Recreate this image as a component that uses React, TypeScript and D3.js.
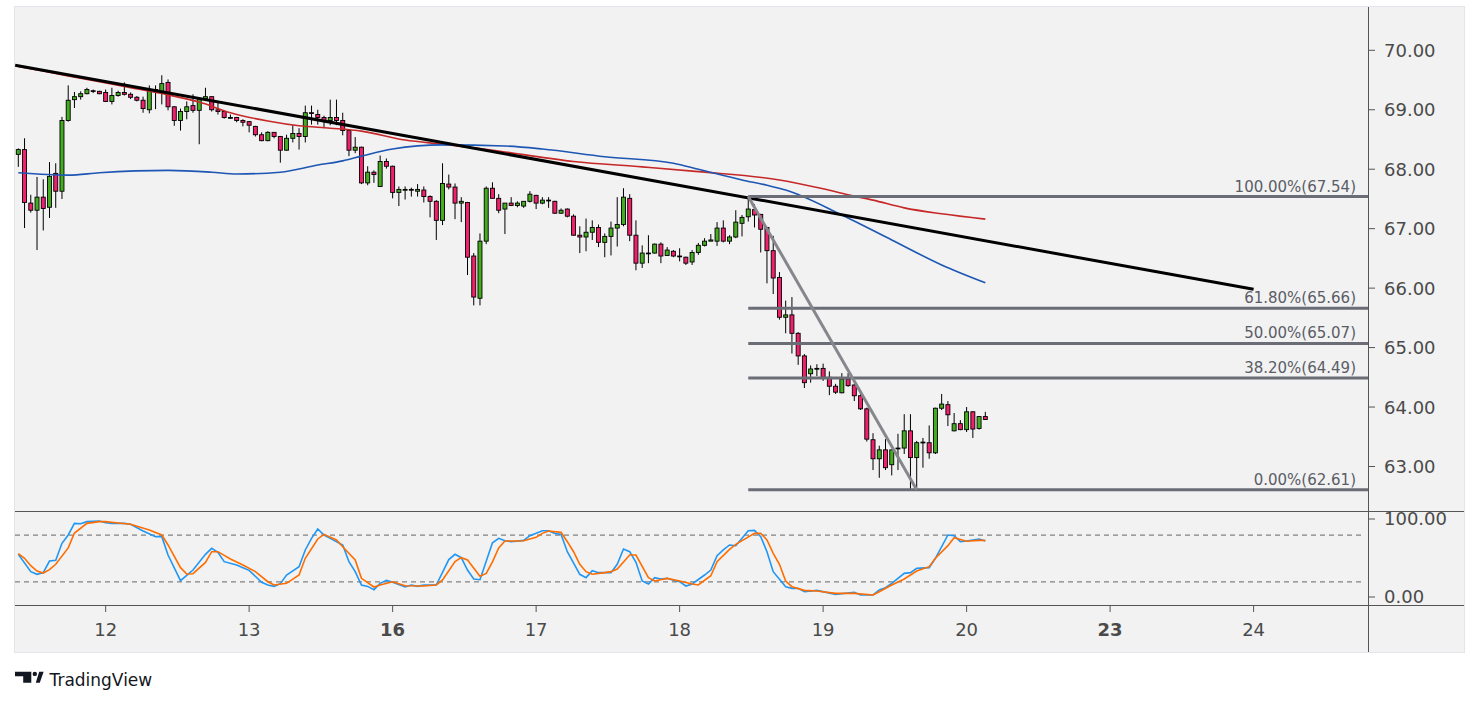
import React, { useEffect, useRef } from 'react';
import * as d3 from 'd3';

// hourly candles, [open, high, low, close]
const candles: [number, number, number, number][] = [
  [68.25, 68.35, 68.04, 68.33], [68.33, 68.52, 67.01, 67.44], [67.43, 67.57, 67.27, 67.31], [67.31, 67.87, 66.64, 67.53],
  [67.53, 67.83, 66.97, 67.34], [67.36, 68.12, 67.18, 67.88], [67.93, 68.10, 67.35, 67.63], [67.63, 68.88, 67.50, 68.82],
  [68.82, 69.41, 68.80, 69.16], [69.17, 69.30, 69.03, 69.22], [69.22, 69.31, 69.17, 69.27], [69.27, 69.37, 69.26, 69.34],
  [69.32, 69.34, 69.28, 69.31], [69.31, 69.32, 69.26, 69.27], [69.29, 69.34, 69.13, 69.14], [69.14, 69.37, 69.09, 69.24],
  [69.24, 69.32, 69.22, 69.29], [69.29, 69.46, 69.24, 69.26], [69.26, 69.29, 69.18, 69.21], [69.21, 69.23, 69.14, 69.16],
  [69.16, 69.22, 68.95, 69.02], [69.00, 69.41, 68.94, 69.34], [69.34, 69.41, 69.01, 69.31], [69.29, 69.58, 69.09, 69.44],
  [69.46, 69.51, 68.99, 69.05], [69.05, 69.06, 68.73, 68.82], [68.82, 69.02, 68.65, 68.97], [68.97, 69.14, 68.84, 69.05],
  [69.07, 69.26, 68.95, 68.99], [68.99, 69.21, 68.42, 69.19], [69.19, 69.37, 69.16, 69.22], [69.22, 69.23, 68.97, 69.00],
  [69.00, 69.14, 68.92, 68.97], [68.97, 68.98, 68.85, 68.87], [68.87, 68.92, 68.85, 68.87], [68.87, 68.88, 68.79, 68.82],
  [68.82, 68.84, 68.72, 68.79], [68.80, 68.81, 68.62, 68.74], [68.72, 68.73, 68.55, 68.58], [68.58, 68.62, 68.47, 68.48],
  [68.48, 68.64, 68.47, 68.62], [68.62, 68.62, 68.52, 68.55], [68.55, 68.56, 68.11, 68.32], [68.32, 68.58, 68.31, 68.52],
  [68.52, 68.74, 68.45, 68.60], [68.60, 68.69, 68.33, 68.55], [68.55, 69.07, 68.45, 68.95], [68.95, 69.07, 68.75, 68.94],
  [68.92, 69.00, 68.75, 68.87], [68.87, 68.90, 68.69, 68.82], [68.82, 69.17, 68.74, 68.87], [68.87, 69.17, 68.74, 68.82],
  [68.82, 68.95, 68.57, 68.65], [68.65, 68.66, 68.22, 68.32], [68.32, 68.54, 68.27, 68.37], [68.37, 68.38, 67.75, 67.77],
  [67.77, 68.05, 67.73, 67.95], [67.95, 67.98, 67.77, 67.91], [67.71, 68.23, 67.70, 68.13], [68.13, 68.18, 68.01, 68.05],
  [68.05, 68.06, 67.51, 67.61], [67.61, 67.71, 67.38, 67.66], [67.66, 67.71, 67.49, 67.66], [67.66, 67.69, 67.54, 67.65],
  [67.63, 67.75, 67.54, 67.66], [67.65, 67.71, 67.44, 67.54], [67.54, 67.56, 67.19, 67.46], [67.46, 67.48, 66.81, 67.14],
  [67.14, 68.10, 67.06, 67.76], [67.75, 67.91, 67.66, 67.70], [67.70, 67.76, 67.16, 67.43], [67.43, 67.53, 67.11, 67.46],
  [67.44, 67.45, 66.22, 66.52], [66.54, 66.59, 65.71, 65.85], [65.83, 66.92, 65.71, 66.79], [66.79, 67.71, 66.74, 67.68],
  [67.68, 67.78, 67.51, 67.51], [67.51, 67.58, 67.26, 67.31], [67.33, 67.43, 66.91, 67.43], [67.43, 67.53, 67.38, 67.39],
  [67.39, 67.46, 67.36, 67.43], [67.38, 67.46, 67.35, 67.46], [67.46, 67.63, 67.44, 67.58], [67.56, 67.57, 67.33, 67.43],
  [67.43, 67.53, 67.41, 67.48], [67.48, 67.53, 67.35, 67.48], [67.46, 67.47, 67.25, 67.26], [67.26, 67.34, 67.25, 67.31],
  [67.33, 67.34, 67.19, 67.21], [67.21, 67.24, 66.88, 66.89], [66.89, 67.04, 66.59, 66.86], [66.86, 67.17, 66.62, 66.94],
  [66.94, 67.14, 66.81, 67.02], [67.02, 67.07, 66.69, 66.77], [66.77, 66.92, 66.52, 66.87], [66.87, 67.12, 66.55, 67.01],
  [67.01, 67.53, 66.70, 67.07], [67.07, 67.68, 67.04, 67.53], [67.51, 67.58, 66.79, 66.89], [66.89, 67.14, 66.30, 66.42],
  [66.42, 66.72, 66.34, 66.59], [66.59, 66.89, 66.42, 66.59], [66.59, 66.75, 66.58, 66.74], [66.74, 66.77, 66.42, 66.54],
  [66.55, 66.69, 66.54, 66.64], [66.62, 66.64, 66.52, 66.54], [66.54, 66.67, 66.45, 66.53], [66.52, 66.53, 66.39, 66.42],
  [66.44, 66.64, 66.39, 66.60], [66.60, 66.76, 66.56, 66.72], [66.72, 66.84, 66.70, 66.79], [66.79, 66.91, 66.79, 66.81],
  [66.79, 67.11, 66.71, 67.01], [67.01, 67.14, 66.77, 66.79], [66.79, 66.89, 66.74, 66.86], [66.86, 67.31, 66.84, 67.11],
  [67.09, 67.23, 66.87, 67.19], [67.20, 67.54, 67.12, 67.33], [67.32, 67.41, 67.02, 67.23], [67.24, 67.25, 66.60, 66.99],
  [67.02, 67.03, 66.08, 66.63], [66.63, 66.88, 65.90, 66.17], [66.18, 66.27, 65.47, 65.51], [65.51, 65.79, 65.24, 65.55],
  [65.55, 65.85, 64.90, 65.24], [65.24, 65.26, 64.71, 64.86], [64.86, 64.89, 64.32, 64.41], [64.56, 64.70, 64.41, 64.64],
  [64.65, 64.72, 64.52, 64.65], [64.65, 64.73, 64.44, 64.50], [64.50, 64.60, 64.20, 64.35], [64.35, 64.39, 64.22, 64.25],
  [64.24, 64.57, 64.23, 64.47], [64.47, 64.57, 64.34, 64.36], [64.37, 64.39, 64.10, 64.19], [64.19, 64.24, 63.95, 63.97],
  [63.97, 63.99, 63.42, 63.46], [63.45, 63.56, 62.94, 63.13], [63.13, 63.35, 62.81, 63.28], [63.28, 63.46, 62.94, 62.98],
  [63.03, 63.28, 62.85, 63.28], [63.30, 63.55, 62.94, 63.31], [63.31, 63.88, 63.21, 63.60], [63.60, 63.88, 62.62, 63.15],
  [63.15, 63.43, 62.61, 63.40], [63.40, 63.48, 62.98, 63.41], [63.40, 63.69, 63.13, 63.23], [63.23, 63.99, 63.21, 63.98],
  [63.98, 64.22, 63.95, 64.05], [64.04, 64.10, 63.68, 63.87], [63.60, 63.90, 63.59, 63.72], [63.72, 63.78, 63.61, 63.62],
  [63.62, 64.00, 63.58, 63.92], [63.92, 63.93, 63.48, 63.63], [63.64, 63.85, 63.62, 63.84], [63.84, 63.92, 63.79, 63.79],
];

// time axis: day labels and the candle index they sit on
const dayLabels = ['12', '13', '16', '17', '18', '19', '20', '23', '24'];
const dayTickIdx = [14, 37, 60, 83, 106, 129, 152, 175, 198];
const weekStarts = ['16', '23'];

const priceTicks = [63, 64, 65, 66, 67, 68, 69, 70];
const stochTicks = [0, 100];
const stochBands = [20, 80];

// moving averages, [candle index, price]
const maBlue: [number, number][] = [
  [0, 67.94], [8, 67.90], [13, 67.94], [24, 67.98], [31, 67.95], [35, 67.92], [42, 67.95], [48, 68.07],
  [52, 68.14], [55, 68.22], [60, 68.34], [68, 68.41], [78, 68.39], [84, 68.34], [94, 68.21], [105, 68.10],
  [109, 68.00], [116, 67.82], [120, 67.73], [123, 67.65], [132, 67.23], [140, 66.81], [148, 66.39], [155, 66.09],
];
const maRed: [number, number][] = [
  [0, 69.73], [8, 69.57], [18, 69.37], [24, 69.25], [29, 69.13], [34, 68.95], [40, 68.81], [45, 68.73],
  [50, 68.69], [55, 68.64], [62, 68.49], [68, 68.42], [73, 68.36], [78, 68.29], [89, 68.13], [100, 68.04],
  [109, 67.96], [122, 67.82], [129, 67.67], [133, 67.57], [137, 67.48], [142, 67.35], [148, 67.25], [155, 67.16],
];

// stochastic %K and %D, [candle index, value]
const stochK: [number, number][] = [
  [0, 54.7], [2, 32.5], [3, 29.1], [4, 31.2], [5, 46.1], [6, 47.0], [7, 68.8], [8, 79.5], [9, 94.4], [10, 94.0],
  [11, 96.6], [13, 97.5], [14, 95.3], [15, 94.4], [17, 94.4], [18, 93.2], [20, 84.6], [22, 77.4], [23, 77.4],
  [24, 53.8], [26, 20.9], [28, 34.6], [30, 54.7], [31, 62.4], [32, 57.3], [33, 45.3], [35, 41.0], [36, 37.6],
  [37, 34.2], [39, 18.8], [40, 15.4], [41, 13.6], [42, 17.1], [43, 28.2], [45, 38.9], [46, 60.3], [47, 75.2],
  [48, 87.2], [49, 79.5], [50, 75.2], [52, 66.7], [53, 45.3], [54, 32.5], [55, 15.4], [56, 13.6], [57, 9.4],
  [58, 17.5], [59, 21.4], [60, 18.8], [62, 12.8], [63, 15.4], [64, 13.6], [65, 15.4], [67, 15.4], [69, 48.0],
  [70, 54.7], [71, 50.4], [72, 34.6], [73, 23.1], [74, 22.2], [76, 69.5], [77, 75.2], [78, 72.2], [79, 70.9],
  [81, 72.6], [82, 78.6], [84, 85.0], [85, 85.0], [86, 81.6], [87, 80.3], [88, 58.1], [90, 29.1], [91, 24.8],
  [92, 33.7], [93, 31.2], [95, 31.2], [96, 41.9], [97, 61.5], [98, 58.1], [99, 44.4], [100, 20.5], [101, 16.7],
  [102, 24.8], [103, 23.1], [104, 23.9], [105, 21.4], [106, 19.6], [107, 14.1], [108, 16.7], [110, 28.2],
  [111, 34.6], [112, 53.0], [113, 60.3], [114, 66.7], [115, 65.8], [117, 85.0], [118, 85.4], [119, 77.4],
  [120, 58.1], [121, 32.5], [123, 13.2], [124, 11.1], [125, 11.1], [126, 6.8], [128, 8.5], [131, 3.4],
  [134, 6.0], [135, 2.6], [137, 2.6], [138, 9.0], [139, 11.9], [140, 17.5], [142, 30.3], [143, 31.2],
  [144, 36.7], [146, 37.6], [147, 49.6], [149, 79.5], [150, 78.6], [151, 70.9], [152, 71.8], [154, 74.4], [155, 71.8],
];
const stochD: [number, number][] = [
  [0, 55.6], [1, 49.6], [2, 40.2], [3, 33.3], [4, 30.7], [5, 35.0], [6, 41.9], [8, 63.0], [9, 82.0], [11, 94.4],
  [13, 96.6], [14, 96.6], [16, 94.9], [18, 93.2], [21, 85.9], [23, 79.5], [24, 66.7], [26, 37.6], [27, 29.5],
  [28, 29.9], [30, 44.4], [31, 58.1], [32, 58.1], [34, 48.7], [36, 41.0], [38, 32.5], [40, 19.6], [41, 15.4],
  [43, 17.5], [45, 28.2], [46, 49.6], [48, 74.4], [49, 80.3], [51, 73.1], [52, 64.5], [54, 47.4], [55, 23.9],
  [57, 12.8], [58, 15.4], [60, 19.6], [62, 14.5], [65, 14.1], [67, 15.4], [68, 21.8], [70, 45.3], [71, 50.4],
  [72, 47.4], [74, 26.5], [75, 30.3], [76, 45.0], [77, 63.0], [78, 71.8], [80, 71.8], [81, 72.2], [83, 76.5],
  [84, 81.6], [85, 84.6], [87, 82.9], [88, 70.9], [89, 58.0], [90, 42.0], [91, 32.5], [92, 29.1], [94, 31.2],
  [95, 32.5], [96, 35.9], [98, 53.8], [99, 53.8], [101, 24.8], [102, 20.5], [104, 23.9], [106, 20.5], [108, 16.7],
  [109, 15.4], [111, 27.3], [112, 45.3], [114, 61.1], [115, 67.5], [118, 81.6], [119, 81.6], [120, 73.1],
  [121, 56.0], [122, 42.0], [123, 20.5], [124, 13.2], [126, 8.5], [128, 7.7], [131, 4.7], [134, 4.7], [137, 2.6],
  [138, 6.8], [140, 15.4], [142, 23.1], [144, 33.3], [146, 38.9], [147, 49.6], [149, 65.8], [150, 76.1],
  [152, 71.5], [154, 72.6], [155, 72.6],
];

// drawings
const trendLine: [number, number][] = [[-0.5, 69.75], [198, 65.98]];
const fibSwing: [number, number][] = [[117, 67.54], [144, 62.61]];
const fibStart = 117;
const fibRatios = ['100.00%', '61.80%', '50.00%', '38.20%', '0.00%'];
const fibPrices = [67.54, 65.66, 65.07, 64.49, 62.61];

const W = 1479;
const H = 706;
const frame = { left: 15, right: 1464, top: 7, bottom: 652 };
const axisX = 1368;
const mainBottom = 511;
const stochBottom = 605;
const FONT = '"DejaVu Sans", Verdana, sans-serif';

const App: React.FC = () => {
  const svgRef = useRef<SVGSVGElement>(null);

  useEffect(() => {
    const svg = d3.select(svgRef.current);
    svg.selectAll('*').remove();

    const x = d3.scaleLinear().domain([0, 198]).range([18.3, 1253.6]);
    const y = d3.scaleLinear().domain([63, 70]).range([466.5, 50.3]);
    const ys = d3.scaleLinear().domain([0, 100]).range([597, 519]);

    svg.append('rect').attr('width', W).attr('height', H).attr('fill', '#ffffff');
    svg.append('rect')
      .attr('x', frame.left - 0.5).attr('y', frame.top - 0.5)
      .attr('width', frame.right - frame.left + 1).attr('height', frame.bottom - frame.top + 1)
      .attr('fill', '#f2f2f2').attr('stroke', '#e4e5ea');

    const defs = svg.append('defs');
    defs.append('clipPath').attr('id', 'mainClip').append('rect')
      .attr('x', frame.left).attr('y', frame.top).attr('width', axisX - frame.left).attr('height', mainBottom - frame.top);
    defs.append('clipPath').attr('id', 'stochClip').append('rect')
      .attr('x', frame.left).attr('y', mainBottom).attr('width', axisX - frame.left).attr('height', stochBottom - mainBottom);

    const main = svg.append('g').attr('clip-path', 'url(#mainClip)');

    // candles
    const bw = 4;
    const c = main.append('g').selectAll('g').data(candles).join('g');
    c.append('line')
      .attr('x1', (_, i) => x(i)).attr('x2', (_, i) => x(i))
      .attr('y1', d => y(d[1])).attr('y2', d => y(d[2]))
      .attr('stroke', '#000').attr('stroke-width', 1);
    c.append('rect')
      .attr('x', (_, i) => x(i) - bw / 2)
      .attr('y', d => y(Math.max(d[0], d[3])))
      .attr('width', bw)
      .attr('height', d => Math.max(0.8, y(Math.min(d[0], d[3])) - y(Math.max(d[0], d[3]))))
      .attr('fill', d => (d[3] >= d[0] ? '#43ad1f' : '#f0206c'))
      .attr('stroke', '#000').attr('stroke-width', 0.9);

    const priceLine = d3.line<[number, number]>().x(d => x(d[0])).y(d => y(d[1])).curve(d3.curveMonotoneX);
    main.append('path').datum(maRed).attr('d', priceLine).attr('fill', 'none')
      .attr('stroke', '#c62828').attr('stroke-width', 1.6);
    main.append('path').datum(maBlue).attr('d', priceLine).attr('fill', 'none')
      .attr('stroke', '#1e56b4').attr('stroke-width', 1.6);

    const straight = d3.line<[number, number]>().x(d => x(d[0])).y(d => y(d[1]));
    main.append('path').datum(trendLine).attr('d', straight).attr('fill', 'none')
      .attr('stroke', '#000').attr('stroke-width', 3);

    // fibonacci retracement
    const fib = main.append('g');
    fib.selectAll('line').data(fibPrices).join('line')
      .attr('x1', x(fibStart)).attr('x2', axisX)
      .attr('y1', d => y(d)).attr('y2', d => y(d))
      .attr('stroke', '#6b6d76').attr('stroke-width', 3);
    fib.selectAll('text').data(fibPrices).join('text')
      .attr('x', 1356).attr('y', d => y(d) - 5)
      .attr('text-anchor', 'end')
      .attr('font-family', FONT).attr('font-size', 15).attr('fill', '#5a5d66')
      .text((d, i) => `${fibRatios[i]}(${d.toFixed(2)})`);
    main.append('path').datum(fibSwing).attr('d', straight).attr('fill', 'none')
      .attr('stroke', '#86878d').attr('stroke-width', 3);

    // stochastic pane
    const stoch = svg.append('g').attr('clip-path', 'url(#stochClip)');
    stoch.selectAll('line').data(stochBands).join('line')
      .attr('x1', frame.left).attr('x2', 1363)
      .attr('y1', d => ys(d) + 0.5).attr('y2', d => ys(d) + 0.5)
      .attr('stroke', '#666').attr('stroke-dasharray', '5 4');
    const stochLine = d3.line<[number, number]>().x(d => x(d[0])).y(d => ys(d[1]));
    stoch.append('path').datum(stochK).attr('d', stochLine).attr('fill', 'none')
      .attr('stroke', '#2196f3').attr('stroke-width', 1.6);
    stoch.append('path').datum(stochD).attr('d', stochLine).attr('fill', 'none')
      .attr('stroke', '#ff6d00').attr('stroke-width', 1.6);

    // pane separators and axes
    const axisColor = '#555';
    svg.append('line').attr('x1', axisX + 0.5).attr('x2', axisX + 0.5)
      .attr('y1', frame.top).attr('y2', frame.bottom).attr('stroke', axisColor);
    [mainBottom, stochBottom].forEach(v => {
      svg.append('line').attr('x1', frame.left).attr('x2', frame.right)
        .attr('y1', v + 0.5).attr('y2', v + 0.5).attr('stroke', axisColor);
    });

    const pAxis = svg.append('g');
    pAxis.selectAll('line').data(priceTicks).join('line')
      .attr('x1', axisX).attr('x2', axisX + 7)
      .attr('y1', d => y(d)).attr('y2', d => y(d)).attr('stroke', axisColor);
    pAxis.selectAll('text').data(priceTicks).join('text')
      .attr('x', axisX + 16).attr('y', d => y(d)).attr('dy', '0.36em')
      .attr('font-family', FONT).attr('font-size', 18).attr('fill', '#4a4a4a')
      .text(d => d.toFixed(2));

    const sAxis = svg.append('g');
    sAxis.selectAll('line').data(stochTicks).join('line')
      .attr('x1', axisX).attr('x2', axisX + 7)
      .attr('y1', d => ys(d)).attr('y2', d => ys(d)).attr('stroke', axisColor);
    sAxis.selectAll('text').data(stochTicks).join('text')
      .attr('x', axisX + 16).attr('y', d => ys(d)).attr('dy', '0.36em')
      .attr('font-family', FONT).attr('font-size', 18).attr('fill', '#4a4a4a')
      .text(d => d.toFixed(2));

    const tAxis = svg.append('g');
    tAxis.selectAll('line').data(dayTickIdx).join('line')
      .attr('x1', d => x(d)).attr('x2', d => x(d))
      .attr('y1', stochBottom).attr('y2', stochBottom + 7).attr('stroke', axisColor);
    tAxis.selectAll('text').data(dayTickIdx).join('text')
      .attr('x', d => x(d)).attr('y', 636)
      .attr('text-anchor', 'middle')
      .attr('font-family', FONT).attr('font-size', 18).attr('fill', '#4a4a4a')
      .attr('font-weight', (_, i) => (weekStarts.includes(dayLabels[i]) ? 'bold' : 'normal'))
      .text((_, i) => dayLabels[i]);

    // TradingView mark
    const logo = svg.append('g').attr('fill', '#131722');
    logo.append('path').attr('d', 'M15 671.7 H31.3 V682.7 H23.2 V676.2 H15 Z');
    logo.append('circle').attr('cx', 34.8).attr('cy', 673.9).attr('r', 2.2);
    logo.append('path').attr('d', 'M35.8 682.7 L39.2 671.7 H43.6 L39.8 682.7 Z');
    logo.append('text').attr('x', 49.5).attr('y', 685.5)
      .attr('font-family', FONT).attr('font-size', 17)
      .text('TradingView');
  }, []);

  return <svg ref={svgRef} width={W} height={H} style={{ position: 'absolute', left: 0, top: 0 }} />;
};

export default App;
